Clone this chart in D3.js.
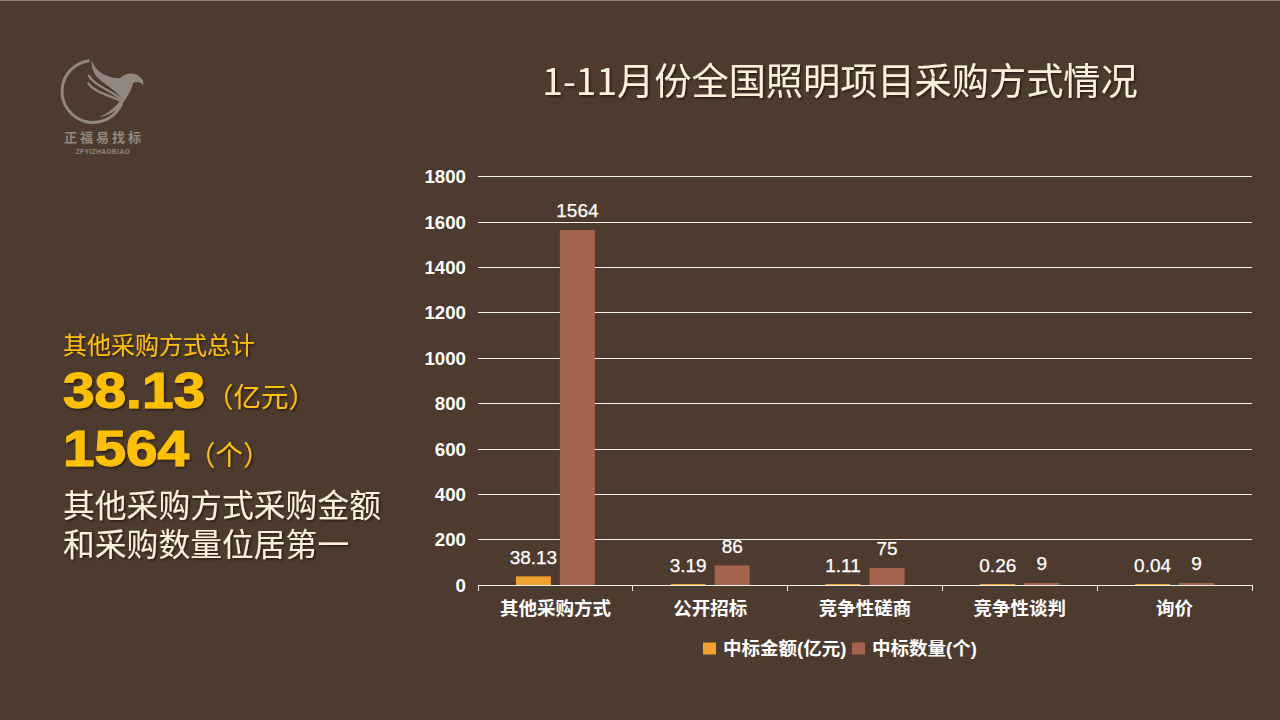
<!DOCTYPE html>
<html><head><meta charset="utf-8">
<script src="https://cdn.jsdelivr.net/npm/d3@7/dist/d3.min.js"></script>
<style>
html,body{margin:0;padding:0;background:#4e3b30;overflow:hidden}
svg{display:block}
text{font-family:"Liberation Sans","Noto Sans CJK SC",sans-serif}
</style></head><body>
<svg id="c" width="1280" height="720"></svg>
<script>
const categories=["其他采购方式","公开招标","竞争性磋商","竞争性谈判","询价"];
const seriesNames=["中标金额(亿元)","中标数量(个)"];
const amountValues=[38.13,3.19,1.11,0.26,0.04];
const countValues=[1564,86,75,9,9];
const amountLabels=["38.13","3.19","1.11","0.26","0.04"];
const countLabels=["1564","86","75","9","9"];
const yTicks=[0,200,400,600,800,1000,1200,1400,1600,1800];
const seriesColors=["#f0a22e","#a5634d"];

const svg=d3.select("#c");
const defs=svg.append("defs");
const f=defs.append("filter").attr("id","sh").attr("x","-5%").attr("y","-5%").attr("width","115%").attr("height","115%");
f.append("feDropShadow").attr("dx",1.5).attr("dy",1.5).attr("stdDeviation",0.8).attr("flood-color","#000").attr("flood-opacity",0.55);

svg.append("rect").attr("width",1280).attr("height",720).attr("fill","#4e3b30");
svg.append("rect").attr("width",1280).attr("height",1).attr("fill","#8a8078");

const x=d3.scaleBand().domain(categories).range([478,1252]);
const y=d3.scaleLinear().domain([0,1800]).range([585.3,176.7]);
const barW=35, gap=9, minH=1;
const base=Math.floor(y(0));

// grid
svg.append("g").selectAll("line").data(yTicks).join("line")
 .attr("x1",478).attr("x2",1252).attr("y1",d=>Math.floor(y(d))+0.5).attr("y2",d=>Math.floor(y(d))+0.5)
 .attr("stroke","#f4f1ee").attr("stroke-width",1);
// y labels
svg.append("g").selectAll("text").data(yTicks).join("text")
 .attr("x",466).attr("y",d=>Math.floor(y(d))+6.5).attr("text-anchor","end")
 .attr("font-size",18.7).attr("font-weight","700").attr("fill","#fff").text(d=>d);
// x axis
const xAxis=d3.axisBottom(x).tickSize(0).tickPadding(0);
const gx=svg.append("g").attr("transform","translate(0,585)").call(xAxis);
gx.select(".domain").remove();
gx.selectAll("text").attr("y",30).attr("dy",0).attr("font-size",18.5).attr("font-weight","700").attr("fill","#fff")
 .style("font-family",'"Liberation Sans","Noto Sans CJK SC",sans-serif');
const edges=categories.map(c=>x(c)).concat([x.range()[1]]);
svg.append("g").attr("shape-rendering","crispEdges").selectAll("line").data(edges).join("line")
 .attr("x1",d=>d).attr("x2",d=>d).attr("y1",585).attr("y2",591).attr("stroke","#f4f1ee");

// bars
const cx=c=>x(c)+x.bandwidth()/2;
const draw=(vals,labels,i)=>{
 const off=i===0?-(barW+gap/2):gap/2;
 const h=v=>Math.max(y(0)-y(v),minH);
 svg.append("g").selectAll("rect").data(categories).join("rect")
  .attr("x",c=>cx(c)+off).attr("width",barW)
  .attr("y",(c,j)=>base-h(vals[j])).attr("height",(c,j)=>h(vals[j]))
  .attr("fill",seriesColors[i]);
 svg.append("g").selectAll("text").data(categories).join("text")
  .attr("x",c=>cx(c)+off+barW/2).attr("y",(c,j)=>base-h(vals[j])-12.5)
  .attr("text-anchor","middle").attr("font-size",19).attr("fill","#fff")
  .attr("stroke","#fff").attr("stroke-width",0.25)
  .text((c,j)=>labels[j]);
};
draw(amountValues,amountLabels,0);
draw(countValues,countLabels,1);
// legend
const lg=svg.append("g");
[[703,seriesNames[0]],[852,seriesNames[1]]].forEach(([lx,t],i)=>{
 lg.append("rect").attr("x",lx).attr("y",642.5).attr("width",13).attr("height",12).attr("fill",seriesColors[i]);
 lg.append("text").attr("x",lx+20).attr("y",654.5).attr("font-size",18.5).attr("font-weight","700").attr("fill","#fff").text(t);
});

// title
svg.append("text").attr("x",840).attr("y",95).attr("text-anchor","middle").attr("font-size",37.2)
 .attr("fill","#fdf0dc").attr("filter","url(#sh)").style("font-family",'"Noto Sans CJK SC",sans-serif').style("font-weight",400).text("1-11月份全国照明项目采购方式情况");

// left panel
const gold="#ffc000",cream="#fdf0dc";
const T=(tx,ty,size,fill,txt,w)=>svg.append("text").attr("x",tx).attr("y",ty).attr("font-size",size).attr("fill",fill)
 .attr("font-weight",w||400).attr("filter","url(#sh)").text(txt);
T(63,354,24,gold,"其他采购方式总计");
T(63,408,50,gold,"38.13",700).attr("stroke",gold).attr("stroke-width",1.2).attr("textLength",142).attr("lengthAdjust","spacingAndGlyphs");
T(206,407,27.5,gold,"（亿元）");
T(63,466,50,gold,"1564",700).attr("stroke",gold).attr("stroke-width",1.2).attr("textLength",126).attr("lengthAdjust","spacingAndGlyphs");
T(188,465,27.5,gold,"（个）");
T(63,517,31.8,cream,"其他采购方式采购金额");
T(63,556,31.8,cream,"和采购数量位居第一");

// logo (decoration, drawn in crop coordinates)
const L=svg.append("g").attr("fill","#8f8780");
const B=L.append("g").attr("transform","translate(40,40) scale(0.3333)");
B.append("path").attr("fill","none").attr("stroke","#8f8780").attr("stroke-width",9)
 .attr("d","M148 62 A93 93 0 1 0 245 190");
B.append("path").attr("d","M155 60 C165 95 200 115 240 115 C255 98 285 95 300 112 C308 118 312 125 310 135 C300 125 290 125 280 128 C272 155 255 190 225 212 C210 222 195 228 178 231 C205 220 235 195 245 175 C225 150 195 135 175 115 C160 100 153 80 155 60Z");
B.append("path").attr("fill","none").attr("stroke","#8f8780").attr("stroke-width",7)
 .attr("d","M145 105 C160 135 210 150 245 178");
B.append("path").attr("fill","none").attr("stroke","#8f8780").attr("stroke-width",7)
 .attr("d","M143 128 C165 160 210 165 240 182");
L.append("text").attr("x",64).attr("y",142).attr("font-size",13).attr("letter-spacing",3).attr("font-weight",700)
 .style("font-family",'"Noto Sans CJK SC",sans-serif').text("正福易找标");
L.append("text").attr("x",103).attr("y",154).attr("text-anchor","middle").attr("font-size",6.5).attr("letter-spacing",0.5).attr("font-weight",700).text("ZFYIZHAOBIAO");
</script></body></html>
